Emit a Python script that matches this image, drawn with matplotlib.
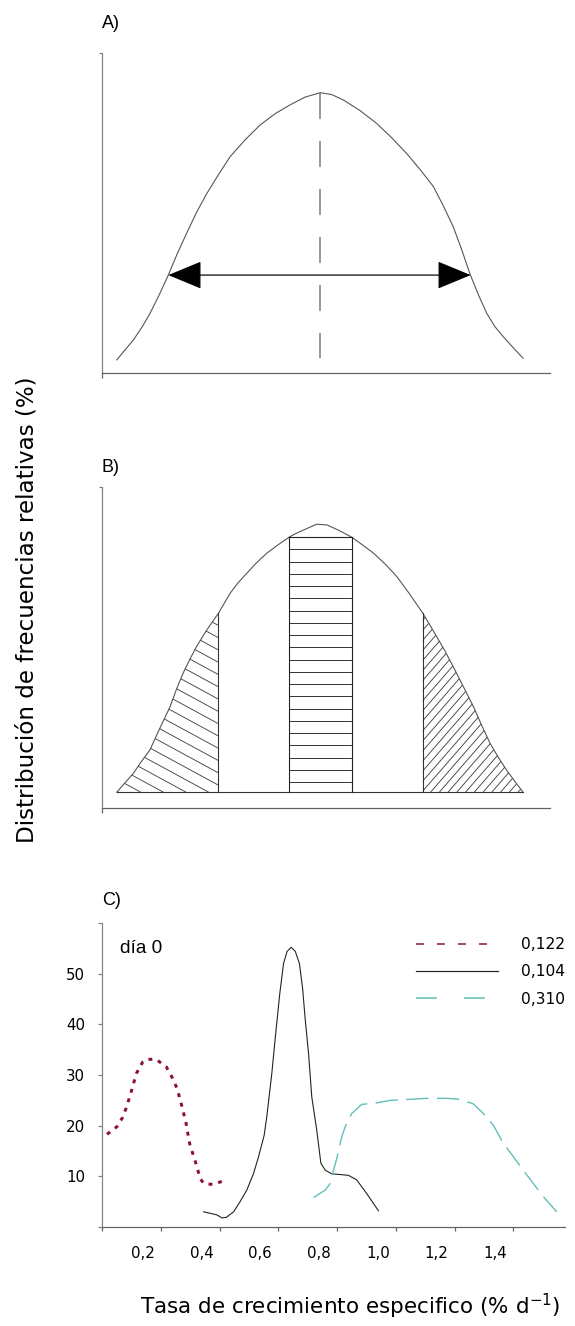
import numpy as np
import matplotlib
matplotlib.use("Agg")
import matplotlib.pyplot as plt
import matplotlib.transforms as mtransforms
from matplotlib.collections import LineCollection
from matplotlib.lines import Line2D
from matplotlib.patches import Polygon

# --- A) schematic growth-rate distribution (arbitrary units) ---
a_x = [3.3, 5.0, 7.0, 9.0, 10.7, 12.8, 14.8, 16.8, 18.9, 21.1, 23.4, 26.0,
       28.6, 31.9, 35.3, 38.6, 42.0, 45.3, 48.7, 51.3, 53.9, 57.6, 61.3,
       64.6, 68.0, 71.0, 74.0, 76.2, 78.4, 80.3, 82.1, 84.0, 85.9, 87.7,
       89.6, 91.8, 94.0]
a_y = [4.1, 7.0, 10.3, 14.5, 18.6, 24.5, 30.6, 37.3, 43.7, 50.2, 56.1, 62.0,
       67.6, 72.8, 77.5, 81.0, 83.8, 86.2, 87.6, 87.0, 85.3, 82.0, 78.0,
       73.6, 68.6, 63.6, 58.2, 52.2, 45.7, 38.5, 31.1, 24.5, 18.6, 14.5,
       11.3, 7.9, 4.6]
a_mode = 48.7
a_base = 4.6
a_width_level = 30.6
a_width_ends = (14.8, 82.3)

# --- B) same distribution split in slow / central / fast fractions ---
b_x = [3.3, 5.1, 7.0, 8.8, 10.7, 12.9, 15.2, 16.6, 18.1, 19.6, 21.1, 23.4,
       26.0, 28.6, 30.4, 32.3, 34.5, 36.8, 39.3, 41.8, 43.4, 45.0, 47.9,
       50.2, 53.0, 55.7, 58.1, 60.6, 63.2, 65.8, 68.7, 71.6, 74.7, 76.6,
       78.4, 80.7, 82.9, 84.8, 86.6, 88.5, 90.3, 92.2, 94.0]
b_y = [4.9, 7.8, 10.8, 14.5, 18.1, 24.8, 31.6, 36.9, 42.0, 46.3, 50.3, 55.5,
       60.7, 66.9, 70.2, 73.1, 76.4, 79.4, 82.0, 84.4, 85.6, 86.6, 88.4,
       88.2, 86.4, 84.4, 82.0, 79.4, 76.0, 72.1, 66.6, 60.7, 53.4, 48.8,
       44.0, 37.7, 31.6, 25.6, 20.2, 15.7, 11.8, 8.2, 4.9]
b_base = 4.9
b_slow_edge = 26.0
b_central = (41.8, 55.7)
b_fast_edge = 71.6

# --- C) día 0, three populations ---
c_labels = ["0,122", "0,104", "0,310"]
red_x = [0.017, 0.051, 0.070, 0.083, 0.096, 0.117, 0.139, 0.153, 0.184, 0.219,
         0.238, 0.255, 0.266, 0.276, 0.286, 0.292, 0.300, 0.312, 0.323, 0.334,
         0.346, 0.376, 0.414]
red_y = [18.3, 19.8, 21.6, 23.6, 26.0, 30.3, 32.6, 33.1, 33.1, 31.6,
         29.6, 27.4, 25.2, 22.9, 20.5, 18.5, 16.0, 14.0, 11.9, 9.6,
         8.6, 8.4, 9.1]
blk_x = [0.346, 0.391, 0.408, 0.423, 0.448, 0.470, 0.493, 0.516, 0.533, 0.552,
         0.561, 0.578, 0.589, 0.605, 0.618, 0.630, 0.644, 0.658, 0.672, 0.683,
         0.692, 0.703, 0.714, 0.731, 0.745, 0.760, 0.782, 0.839, 0.867, 0.901,
         0.941]
blk_y = [3.0, 2.4, 1.8, 1.9, 3.0, 5.0, 7.3, 10.6, 13.9, 18.1,
         21.8, 30.3, 36.9, 46.0, 52.0, 54.4, 55.2, 54.4, 52.0, 47.0,
         40.8, 34.3, 25.7, 19.1, 12.6, 11.2, 10.5, 10.2, 9.3, 6.6,
         3.2]
teal_x = [0.720, 0.760, 0.777, 0.788, 0.799, 0.816, 0.828, 0.850, 0.884, 0.935,
          0.981, 1.049, 1.105, 1.173, 1.219, 1.264, 1.298, 1.332, 1.366, 1.400,
          1.434, 1.468, 1.502, 1.548]
teal_y = [5.8, 7.3, 8.6, 11.2, 13.5, 17.8, 19.8, 22.4, 24.2, 24.5,
          25.0, 25.2, 25.4, 25.4, 25.2, 24.3, 22.4, 20.1, 16.5, 13.9,
          11.2, 8.6, 6.0, 3.0]
c_xticks = [0.0, 0.2, 0.4, 0.6, 0.8, 1.0, 1.2, 1.4]
c_xticklabels = ["", "0,2", "0,4", "0,6", "0,8", "1,0", "1,2", "1,4"]
c_yticks = [0, 10, 20, 30, 40, 50, 60]
c_yticklabels = ["", "10", "20", "30", "40", "50", ""]

RED = "#8c0f3e"
TEAL = "#62c0b8"
AXGREY = "#808080"
CURVE = "#555555"

W, H = 575, 1326
DPI = 72
fig = plt.figure(figsize=(W / DPI, H / DPI), dpi=DPI)
plt.rcParams["font.family"] = ["DejaVu Sans"]


def axes_px(left, top, right, bottom):
    return fig.add_axes([left / W, 1 - bottom / H, (right - left) / W, (bottom - top) / H])


def style_axes(ax):
    for s in ("top", "right"):
        ax.spines[s].set_visible(False)
    ax.spines["left"].set_color(AXGREY)
    ax.spines["bottom"].set_color("#606060")
    ax.spines["left"].set_linewidth(1.2)
    ax.spines["bottom"].set_linewidth(1.2)


def hatch(ax, verts, angle, spacing, anchor=(0.0, 0.0), color="#444444", lw=0.9):
    # parallel lines in pixel space, clipped to a polygon given in data coords
    poly = Polygon(verts, closed=True, facecolor="none", edgecolor="none")
    ax.add_patch(poly)
    aw, ah = ax.bbox.width, ax.bbox.height
    th = np.radians(angle)
    d = np.array([np.cos(th), np.sin(th)])
    n = np.array([-np.sin(th), np.cos(th)])
    big = np.hypot(aw, ah) * 1.5
    c0 = np.dot(anchor, n)
    k = np.arange(-int(big / spacing) - 1, int(big / spacing) + 2)
    segs = []
    for c in c0 + k * spacing:
        p0 = c * n - big * d
        p1 = c * n + big * d
        segs.append([(p0[0] / aw, p0[1] / ah), (p1[0] / aw, p1[1] / ah)])
    lc = LineCollection(segs, colors=color, linewidths=lw, transform=ax.transAxes)
    ax.add_collection(lc)
    lc.set_clip_path(poly)


def bare_axes(ax):
    ax.set_xlim(0, 100)
    ax.set_ylim(0, 100)
    style_axes(ax)
    ax.set_xticks([0])
    ax.set_yticks([100])
    ax.set_xticklabels([])
    ax.set_yticklabels([])
    ax.tick_params(axis="x", length=5, width=1.2, color="#606060", direction="out")
    ax.tick_params(axis="y", length=3, width=1.2, color=AXGREY, direction="out")


# ---------- A ----------
axa = axes_px(102, 53, 550, 373)
bare_axes(axa)
axa.plot(a_x, a_y, color=CURVE, lw=1.1)
axa.plot([a_mode, a_mode], [max(a_y), a_base], color="#777777", lw=1.5,
         linestyle=(0, (17.3, 14.7)))
axa.annotate("", xy=(a_width_ends[0], a_width_level), xytext=(a_width_ends[1], a_width_level),
             arrowprops=dict(arrowstyle="<|-|>,head_length=1.5,head_width=0.62",
                             mutation_scale=20, color="black", lw=1.2,
                             shrinkA=0, shrinkB=0))

# ---------- B ----------
axb = axes_px(102, 487, 550, 808)
bare_axes(axb)
bx = np.array(b_x)
by = np.array(b_y)
axb.plot(bx, by, color=CURVE, lw=1.1)
axb.plot([bx[0], bx[-1]], [b_base, b_base], color="#333333", lw=1.1)

slow_top = np.interp(b_slow_edge, bx, by)
fast_top = np.interp(b_fast_edge, bx, by)
band_top = np.interp(b_central[0], bx, by)

slow_verts = [(x, y) for x, y in zip(bx, by) if x < b_slow_edge]
slow_verts += [(b_slow_edge, slow_top), (b_slow_edge, b_base)]
fast_verts = [(b_fast_edge, b_base), (b_fast_edge, fast_top)]
fast_verts += [(x, y) for x, y in zip(bx, by) if x > b_fast_edge]
band_verts = [(b_central[0], b_base), (b_central[0], band_top),
              (b_central[1], band_top), (b_central[1], b_base)]

hatch(axb, slow_verts, -28.5, 10.8)
hatch(axb, fast_verts, 49, 6.6)
top_px = axb.transData.transform((0, band_top))[1] - axb.bbox.y0
hatch(axb, band_verts, 0, 12.25, anchor=(0.0, top_px), color="#222222")

axb.plot([b_slow_edge, b_slow_edge], [b_base, slow_top], color="#333333", lw=1.1)
axb.plot([b_fast_edge, b_fast_edge], [b_base, fast_top], color="#333333", lw=1.1)
for xe in b_central:
    axb.plot([xe, xe], [b_base, band_top], color="#222222", lw=1.1)
axb.plot(b_central, [band_top, band_top], color="#222222", lw=1.1)

# ---------- C ----------
axc = axes_px(102, 923, 565, 1227)
style_axes(axc)
axc.set_xlim(0, 1.576)
axc.set_ylim(0, 60)
axc.plot(red_x, red_y, color=RED, lw=3, linestyle=(0, (1.3, 2.0)))
axc.plot(blk_x, blk_y, color="#222222", lw=1.1)
axc.plot(teal_x, teal_y, color=TEAL, lw=1.4, linestyle=(0, (16, 6)))

axc.set_xticks(c_xticks)
axc.set_xticklabels(c_xticklabels, fontsize=15)
axc.set_yticks(c_yticks)
axc.set_yticklabels(c_yticklabels, fontsize=15)
axc.tick_params(axis="x", length=4, width=1.2, color="#606060", pad=15)
axc.tick_params(axis="y", length=4, width=1.2, color=AXGREY, pad=13)
shift = mtransforms.ScaledTranslation(-18 / DPI, 0, fig.dpi_scale_trans)
for lab in axc.get_xticklabels():
    lab.set_transform(lab.get_transform() + shift)

axc.text(120 / W, 1 - 953 / H, "día 0", transform=fig.transFigure,
         fontsize=19, family=["Liberation Sans", "DejaVu Sans"])

handles = [
    Line2D([], [], color=RED, lw=1.5, linestyle=(0, (5.3, 8.7))),
    Line2D([], [], color="#222222", lw=1.2),
    Line2D([], [], color=TEAL, lw=1.6, linestyle=(0, (13, 17))),
]
fig.legend(handles, c_labels, loc="upper left", bbox_to_anchor=(416 / W, 1 - 937 / H),
           frameon=False, fontsize=15.5, handlelength=5.3, handletextpad=1.5,
           labelspacing=0.8, borderpad=0, borderaxespad=0)

# panel letters and shared axis titles
for letter, base_y in (("A)", 28), ("B)", 472), ("C)", 905)):
    fig.text(102 / W, 1 - base_y / H, letter, fontsize=18, va="baseline",
             family=["Liberation Sans", "DejaVu Sans"])

fig.text(27 / W, 1 - 610 / H, "Distribución de frecuencias relativas (%)",
         rotation=90, ha="center", va="center", fontsize=23)
fig.text(350 / W, 1 - 1306 / H, "Tasa de crecimiento especifico (% d$^{\\mathregular{-1}}$)",
         ha="center", va="center", fontsize=21.5)

fig.savefig("out.png", dpi=DPI)
